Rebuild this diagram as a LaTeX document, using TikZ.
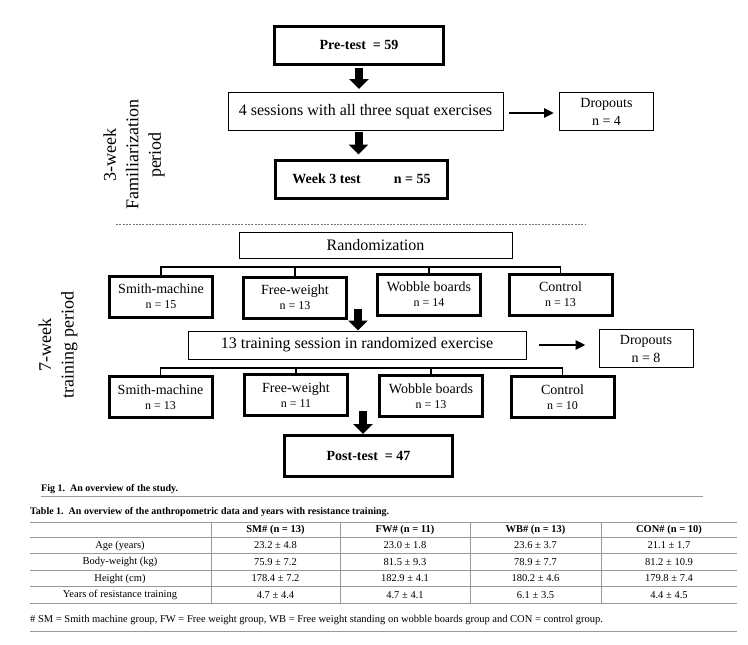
\documentclass[tikz,border=0pt]{standalone}
\usepackage{fontspec}
\setmainfont{Liberation Serif}
\usetikzlibrary{arrows.meta,calc}
\begin{document}
\begin{tikzpicture}[x=1pt,y=-1pt,
  thickbox/.style={draw, line width=3pt, rectangle, inner sep=0pt, align=center},
  thinbox/.style={draw, line width=1pt, rectangle, inner sep=0pt, align=center},
  groupbox/.style={thickbox, minimum width=103pt, minimum height=41pt, font=\fontsize{14}{15}\selectfont},
  dropbox/.style={thinbox, minimum width=94pt, minimum height=38pt, font=\fontsize{14}{18}\selectfont},
  blockarrow/.style={line width=8pt, -{Triangle[width=19pt,length=10pt]}},
  droparrow/.style={line width=2.5pt, -{Triangle[width=9pt,length=10pt]}},
  bracket/.style={line width=1.2pt},
  sidelabel/.style={rotate=90, align=center, font=\fontsize{18}{22.5}\selectfont},
  tabrule/.style={line width=0.8pt, draw=black!40},
  celltext/.style={font=\fontsize{10.5}{12}\selectfont, inner sep=0pt},
  headtext/.style={font=\bfseries\fontsize{10.5}{12}\selectfont, inner sep=0pt},
  captext/.style={font=\bfseries\fontsize{10}{12}\selectfont, inner sep=0pt, anchor=west}
]
\useasboundingbox[fill=white] (0,0) rectangle (748,645);
\newcommand{\nsmall}[1]{{\fontsize{12}{15}\selectfont #1}}

% side labels
\node[sidelabel] (lab3) at (134,155) {3-week\\Familiarization\\period};
\node[sidelabel] (lab7) at (58,345) {7-week\\training period};

% familiarization part
\node[thickbox, minimum width=169pt, minimum height=38pt, font=\bfseries\fontsize{14}{16}\selectfont] (pre) at (359,45) {Pre-test\ \ = 59};
\node[thinbox, minimum width=275pt, minimum height=38pt, font=\fontsize{16}{18}\selectfont] (sess) at (365.5,111.5) {4 sessions with all three squat exercises};
\node[dropbox] (drop1) at (606.5,111.5) {Dropouts\\n = 4};
\node[thickbox, minimum width=172pt, minimum height=38pt, font=\bfseries\fontsize{14}{16}\selectfont] (w3) at (361.5,179) {Week 3 test\hspace{33pt}n = 55};

\draw[blockarrow] ($(pre.south)+(0,2)$) -- ($(pre.south |- sess.north)+(0,-3)$);
\draw[blockarrow] ($(sess.south -| w3.north)+(-3,1)$) -- ($(w3.north)+(-3,-4)$);
\draw[droparrow] ($(sess.east)+(5,1.5)$) -- ($(drop1.west)+(-5,1.5)$);

% dashed separator
\coordinate (dashL) at (116,224);
\coordinate (dashR) at (585,224);
\draw[draw=black!55, line width=0.8pt, dash pattern=on 2pt off 1.3pt] (dashL) -- (dashR);

% randomization
\node[thinbox, minimum width=273pt, minimum height=26pt, font=\fontsize{16}{18}\selectfont] (rand) at (375.5,245) {Randomization};

\node[groupbox] (a1) at (161,296.5) {Smith-machine\\\nsmall{n = 15}};
\node[groupbox] (b1) at (295,297.5) {Free-weight\\\nsmall{n = 13}};
\node[groupbox] (c1) at (429,294.5) {Wobble boards\\\nsmall{n = 14}};
\node[groupbox] (d1) at (560.5,294.5) {Control\\\nsmall{n = 13}};

\coordinate (br1) at (0,267);
\draw[bracket] (a1.north) -- (a1.north |- br1) -- (d1.north |- br1) -- (d1.north);
\draw[bracket] (b1.north) -- (b1.north |- br1);
\draw[bracket] (c1.north) -- (c1.north |- br1);

% training
\node[thinbox, minimum width=338pt, minimum height=28pt, font=\fontsize{16}{18}\selectfont] (train) at (357,345) {13 training session in randomized exercise};
\node[dropbox] (drop2) at (646,348.5) {Dropouts\\n = 8};
\coordinate (arr3s) at (358,309);
\draw[blockarrow] (arr3s) -- (arr3s |- train.north);
\draw[droparrow] ($(train.east)+(12,0)$) -- ($(train.east -| drop2.west)+(-13,0)$);

\node[groupbox] (a2) at (160.5,397) {Smith-machine\\\nsmall{n = 13}};
\node[groupbox] (b2) at (296,395) {Free-weight\\\nsmall{n = 11}};
\node[groupbox] (c2) at (431,396) {Wobble boards\\\nsmall{n = 13}};
\node[groupbox] (d2) at (562.5,397) {Control\\\nsmall{n = 10}};

\coordinate (br2) at (0,368);
\draw[bracket] (a2.north) -- (a2.north |- br2) -- (d2.north |- br2) -- (d2.north);
\draw[bracket] (b2.north) -- (b2.north |- br2);
\draw[bracket] (c2.north) -- (c2.north |- br2);

\node[thickbox, minimum width=168pt, minimum height=41pt, font=\bfseries\fontsize{14}{16}\selectfont] (post) at (368.5,456) {Post-test\ \ = 47};
\coordinate (arr4s) at (363,411);
\draw[blockarrow] (arr4s) -- (arr4s |- post.north);

% caption and table
\node[captext] (figcap) at (41,489) {Fig 1.\ \ An overview of the study.};
\coordinate (figruleL) at (41,496);
\coordinate (figruleR) at (703,496);
\draw[tabrule] (figruleL) -- (figruleR);

\node[captext] (tabcap) at (30,512) {Table 1.\ \ An overview of the anthropometric data and years with resistance training.};

\foreach \yy in {522,537,553.5,570,586.5,603}{
  \draw[tabrule] (30,\yy) -- (737,\yy);
}
\foreach \xx in {211,340,470,601}{
  \draw[tabrule] (\xx,522) -- (\xx,603);
}

\node[headtext] (h1) at (275.5,530) {SM\# (n = 13)};
\node[headtext] (h2) at (405,530) {FW\# (n = 11)};
\node[headtext] (h3) at (535.5,530) {WB\# (n = 13)};
\node[headtext] (h4) at (669,530) {CON\# (n = 10)};

\node[celltext] (r1) at (120,545.5) {Age (years)};
\node[celltext] at (275.5,545.5) {23.2 ± 4.8};
\node[celltext] at (405,545.5) {23.0 ± 1.8};
\node[celltext] at (535.5,545.5) {23.6 ± 3.7};
\node[celltext] at (669,545.5) {21.1 ± 1.7};

\node[celltext] (r2) at (120,562) {Body-weight (kg)};
\node[celltext] at (275.5,562) {75.9 ± 7.2};
\node[celltext] at (405,562) {81.5 ± 9.3};
\node[celltext] at (535.5,562) {78.9 ± 7.7};
\node[celltext] at (669,562) {81.2 ± 10.9};

\node[celltext] (r3) at (120,578.5) {Height (cm)};
\node[celltext] at (275.5,578.5) {178.4 ± 7.2};
\node[celltext] at (405,578.5) {182.9 ± 4.1};
\node[celltext] at (535.5,578.5) {180.2 ± 4.6};
\node[celltext] at (669,578.5) {179.8 ± 7.4};

\node[celltext] (r4) at (120,595) {Years of resistance training};
\node[celltext] at (275.5,595) {4.7 ± 4.4};
\node[celltext] at (405,595) {4.7 ± 4.1};
\node[celltext] at (535.5,595) {6.1 ± 3.5};
\node[celltext] at (669,595) {4.4 ± 4.5};

\node[celltext, anchor=west] (foot) at (30,620) {\# SM = Smith machine group, FW = Free weight group, WB = Free weight standing on wobble boards group and CON = control group.};
\coordinate (footL) at (30,631);
\coordinate (footR) at (737,631);
\draw[tabrule] (footL) -- (footR);
\end{tikzpicture}
\end{document}
